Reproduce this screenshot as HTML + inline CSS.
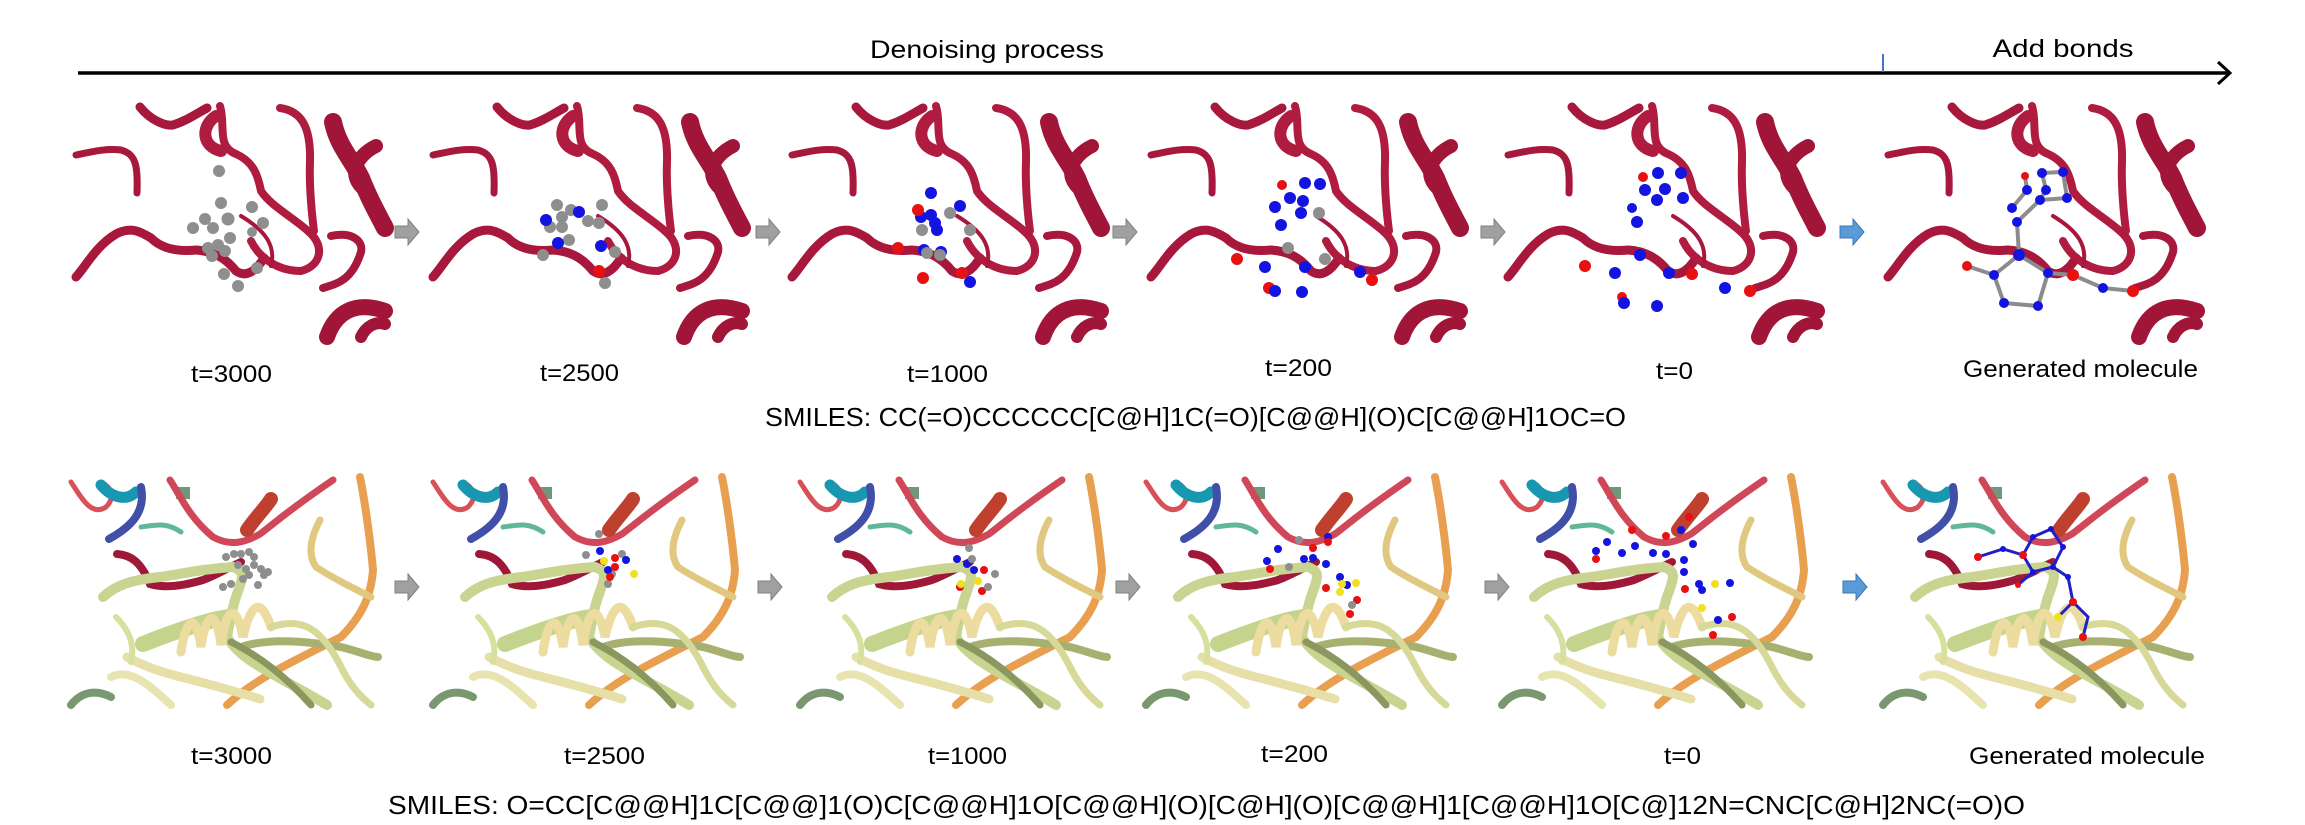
<!DOCTYPE html>
<html><head><meta charset="utf-8"><style>
html,body{margin:0;padding:0;background:#fff;}
svg{display:block;}
text{font-family:"Liberation Sans",sans-serif;fill:#000;}
</style></head><body>
<svg width="2305" height="825" viewBox="0 0 2305 825">
<defs>
<g id="rib1" fill="none" stroke-linecap="round">
 <path d="M0,49 C15,46 30,42 45,44 C60,48 62,60 61,87" stroke="#a8183c" stroke-width="7"/>
 <path d="M0,171 C10,160 20,140 40,128 C55,120 65,126 75,132 C85,142 100,146 120,144 C135,145 148,150 160,165 C170,172 180,165 188,152" stroke="#a8183c" stroke-width="9"/>
 <path d="M144,0 C150,20 140,40 160,48 C178,56 182,70 185,85 C195,100 215,110 232,125 C250,140 245,160 225,165 C205,165 185,155 175,135" stroke="#b01c40" stroke-width="8"/>
 <path d="M140,10 C125,20 125,40 145,45" stroke="#b01c40" stroke-width="12"/>
 <path d="M204,2 C225,5 235,20 234,56 C233,80 236,110 238,125" stroke="#b01c40" stroke-width="8"/>
 <path d="M257,16 C262,40 275,52 285,72 C292,90 300,105 309,122" stroke="#a01538" stroke-width="18"/>
 <path d="M300,40 C280,50 270,70 290,85" stroke="#a01538" stroke-width="14"/>
 <path d="M64,1 C75,15 90,20 97,19 C110,15 120,8 131,2" stroke="#a8183c" stroke-width="9"/>
 <path d="M247,182 C260,178 275,175 284,149 C290,135 275,125 255,130" stroke="#a8183c" stroke-width="8"/>
 <path d="M251,231 C260,205 280,195 309,205" stroke="#a01538" stroke-width="16"/>
 <path d="M285,231 C290,220 300,215 309,218" stroke="#a01538" stroke-width="12"/>
 <path d="M165,110 C190,125 200,140 195,160" stroke="#a8183c" stroke-width="4"/>
</g>
<g id="rib2" fill="none" stroke-linecap="round">
 <path d="M0,5 C10,20 20,40 35,30 C45,20 40,10 30,5" stroke="#d85058" stroke-width="5"/>
 <path d="M30,8 C40,20 55,25 65,15" stroke="#1898b0" stroke-width="11"/>
 <path d="M70,10 C75,35 60,50 38,62" stroke="#4050a8" stroke-width="8"/>
 <path d="M70,50 C85,48 95,45 110,55" stroke="#60b898" stroke-width="5"/>
 <rect x="105" y="10" width="14" height="12" fill="#709878"/>
 <path d="M99,3 C110,20 118,40 142,60 C160,70 175,65 189,57 C205,45 215,35 262,3" stroke="#d04858" stroke-width="7"/>
 <path d="M176,53 C185,40 195,30 200,22" stroke="#c04030" stroke-width="14"/>
 <path d="M46,77 C60,78 70,85 79,107 C95,112 115,108 132,103 C145,98 155,92 170,85" stroke="#a01838" stroke-width="8"/>
 <path d="M289,0 C295,30 300,70 302,93 C300,120 290,140 270,160 C250,170 220,185 206,193 C185,205 170,215 156,228" stroke="#e8a050" stroke-width="8"/>
 <path d="M249,43 C240,60 236,77 245,90 C260,100 280,110 300,120" stroke="#e0c880" stroke-width="7"/>
 <path d="M32,120 C45,108 60,103 89,100 C110,97 130,92 162,90 C175,95 172,100 165,120 C160,135 158,150 156,160 C170,185 210,200 256,228" stroke="#c8d490" stroke-width="10"/>
 <path d="M72,167 C90,160 110,152 135,145 C145,142 152,141 158,140" stroke="#c4d48c" stroke-width="16"/>
 <path d="M110,175 C115,140 125,135 130,170 C135,135 145,130 150,168 C155,130 165,125 172,160 C180,125 190,120 200,150" stroke="#ecdca0" stroke-width="9"/>
 <path d="M56,180 C75,190 90,195 110,200 C130,205 150,210 189,222" stroke="#e6e0a8" stroke-width="9"/>
 <path d="M40,200 C60,190 80,210 100,228" stroke="#e8e4b0" stroke-width="8"/>
 <path d="M170,170 C200,160 240,165 270,170 C290,175 300,180 307,180" stroke="#a8b070" stroke-width="8"/>
 <path d="M160,165 C190,180 215,200 240,228" stroke="#8a9860" stroke-width="7"/>
 <path d="M0,228 C10,215 25,212 40,220" stroke="#7a9870" stroke-width="8"/>
 <path d="M45,140 C55,150 65,165 60,185" stroke="#d8e0a0" stroke-width="6"/>
 <path d="M200,150 C230,140 250,150 270,190 C280,210 290,220 300,228" stroke="#d8d898" stroke-width="7"/>
</g>
<g id="gen1">
 <g stroke="#8c8c8c" stroke-width="4" fill="none">
  <path d="M154,67 L175,66 L179,92 L152,94 L158,84 L154,67"/>
  <path d="M139,84 L124,102 M139,84 L137,70 M152,94 L129,116 L131,149 L106,169 L116,197 L150,200 L160,167 L131,149 M106,169 L79,160 M160,167 L185,169 L215,182 L245,185"/>
 </g>
 <g fill="#1414e0"><circle cx="154" cy="67" r="5"/><circle cx="175" cy="66" r="5"/><circle cx="158" cy="84" r="5"/><circle cx="179" cy="92" r="5"/><circle cx="139" cy="84" r="5"/><circle cx="152" cy="94" r="5"/><circle cx="124" cy="102" r="5"/><circle cx="129" cy="116" r="5"/><circle cx="131" cy="149" r="6"/><circle cx="106" cy="169" r="5"/><circle cx="160" cy="167" r="5"/><circle cx="116" cy="197" r="5"/><circle cx="150" cy="200" r="5"/><circle cx="215" cy="182" r="5"/></g>
 <g fill="#e81010"><circle cx="137" cy="70" r="4"/><circle cx="79" cy="160" r="5"/><circle cx="185" cy="169" r="6"/><circle cx="245" cy="185" r="6"/></g>
</g>
<g id="gen2">
 <g stroke="#2020c8" stroke-width="3" fill="none">
  <path d="M95,80 L120,72 L140,78 L150,60 L168,52 L180,70 L170,90 L150,95 L140,78 M170,90 L185,100 L190,125 L205,140 L200,160 M190,125 L175,140 M150,95 L135,108"/>
 </g>
 <g fill="#1414e0"><circle cx="120" cy="72" r="3"/><circle cx="150" cy="60" r="3"/><circle cx="168" cy="52" r="3"/><circle cx="180" cy="70" r="3"/><circle cx="170" cy="90" r="3"/><circle cx="150" cy="95" r="3"/><circle cx="185" cy="100" r="3"/></g>
 <g fill="#e81010"><circle cx="95" cy="80" r="4"/><circle cx="140" cy="78" r="4"/><circle cx="190" cy="125" r="4"/><circle cx="200" cy="160" r="4"/><circle cx="135" cy="108" r="3"/></g>
 <circle cx="175" cy="140" r="4" fill="#f0e020"/>
</g>
</defs>

<line x1="78" y1="73" x2="2228" y2="73" stroke="#000" stroke-width="3.5"/>
<path d="M2218,62 L2230,73 L2218,84" fill="none" stroke="#000" stroke-width="3"/>
<line x1="1883" y1="54" x2="1883" y2="72" stroke="#4a70c8" stroke-width="2"/>
<text x="987" y="58" font-size="25" text-anchor="middle" textLength="234" lengthAdjust="spacingAndGlyphs">Denoising process</text>
<text x="2063" y="57" font-size="25" text-anchor="middle" textLength="141" lengthAdjust="spacingAndGlyphs">Add bonds</text>

<g>
 <g transform="translate(76,106)"><use href="#rib1"/>
  <g fill="#8e8e8e"><circle cx="143" cy="65" r="6"/><circle cx="145" cy="97" r="6"/><circle cx="176" cy="101" r="6"/><circle cx="152" cy="113" r="6.5"/><circle cx="129" cy="113" r="6"/><circle cx="187" cy="117" r="6"/><circle cx="117" cy="122" r="6"/><circle cx="137" cy="122" r="6"/><circle cx="154" cy="132" r="6"/><circle cx="176" cy="126" r="5"/><circle cx="132" cy="142" r="6"/><circle cx="142" cy="139" r="6"/><circle cx="149" cy="145" r="6"/><circle cx="136" cy="150" r="6"/><circle cx="181" cy="162" r="6"/><circle cx="148" cy="168" r="6"/><circle cx="162" cy="180" r="6"/></g>
 </g>
 <g transform="translate(433,106)"><use href="#rib1"/>
  <g fill="#8e8e8e"><circle cx="124" cy="99" r="6"/><circle cx="138" cy="104" r="6"/><circle cx="169" cy="99" r="6"/><circle cx="129" cy="111" r="6"/><circle cx="155" cy="115" r="6"/><circle cx="166" cy="117" r="6"/><circle cx="117" cy="121" r="6"/><circle cx="129" cy="121" r="6"/><circle cx="136" cy="134" r="6"/><circle cx="110" cy="149" r="6"/><circle cx="182" cy="146" r="6"/><circle cx="172" cy="177" r="6"/></g>
  <g fill="#1414e0"><circle cx="113" cy="114" r="6"/><circle cx="146" cy="106" r="6"/><circle cx="125" cy="137" r="6"/><circle cx="168" cy="140" r="6"/></g>
  <circle cx="166" cy="165" r="6" fill="#e81010"/>
 </g>
 <g transform="translate(792,106)"><use href="#rib1"/>
  <g fill="#1414e0"><circle cx="139" cy="87" r="6"/><circle cx="168" cy="100" r="6"/><circle cx="129" cy="111" r="6"/><circle cx="139" cy="109" r="6"/><circle cx="143" cy="117" r="6"/><circle cx="145" cy="124" r="6"/><circle cx="132" cy="144" r="6"/><circle cx="149" cy="146" r="6"/><circle cx="178" cy="176" r="6"/></g>
  <g fill="#e81010"><circle cx="126" cy="104" r="6"/><circle cx="106" cy="142" r="6"/><circle cx="170" cy="167" r="6"/><circle cx="131" cy="172" r="6"/></g>
  <g fill="#8e8e8e"><circle cx="158" cy="107" r="6"/><circle cx="130" cy="124" r="6"/><circle cx="178" cy="124" r="6"/><circle cx="135" cy="147" r="6"/><circle cx="148" cy="149" r="6"/></g>
 </g>
 <g transform="translate(1151,106)"><use href="#rib1"/>
  <g fill="#e81010"><circle cx="131" cy="79" r="5"/><circle cx="86" cy="153" r="6"/><circle cx="221" cy="174" r="6"/><circle cx="118" cy="182" r="6"/></g>
  <g fill="#1414e0"><circle cx="154" cy="77" r="6"/><circle cx="169" cy="78" r="6"/><circle cx="139" cy="92" r="6"/><circle cx="152" cy="95" r="6"/><circle cx="124" cy="101" r="6"/><circle cx="150" cy="107" r="6"/><circle cx="130" cy="119" r="6"/><circle cx="114" cy="161" r="6"/><circle cx="154" cy="161" r="6"/><circle cx="209" cy="166" r="6"/><circle cx="124" cy="185" r="6"/><circle cx="151" cy="186" r="6"/></g>
  <g fill="#8e8e8e"><circle cx="168" cy="107" r="6"/><circle cx="137" cy="142" r="6"/><circle cx="174" cy="153" r="6"/></g>
 </g>
 <g transform="translate(1508,106)"><use href="#rib1"/>
  <g fill="#e81010"><circle cx="135" cy="71" r="5"/><circle cx="77" cy="160" r="6"/><circle cx="184" cy="168" r="6"/><circle cx="242" cy="185" r="6"/><circle cx="114" cy="191" r="5"/></g>
  <g fill="#1414e0"><circle cx="150" cy="67" r="6"/><circle cx="173" cy="67" r="6"/><circle cx="137" cy="84" r="6"/><circle cx="157" cy="83" r="6"/><circle cx="149" cy="94" r="6"/><circle cx="175" cy="92" r="6"/><circle cx="124" cy="102" r="5"/><circle cx="129" cy="116" r="6"/><circle cx="132" cy="149" r="6"/><circle cx="107" cy="167" r="6"/><circle cx="161" cy="167" r="6"/><circle cx="217" cy="182" r="6"/><circle cx="116" cy="197" r="6"/><circle cx="149" cy="200" r="6"/></g>
 </g>
 <g transform="translate(1888,106)"><use href="#rib1"/><use href="#gen1"/></g>
</g>

<g>
 <g transform="translate(71,477)"><use href="#rib2"/>
  <g fill="#8e8e8e"><circle cx="155" cy="80" r="4"/><circle cx="163" cy="77" r="4"/><circle cx="170" cy="77" r="4"/><circle cx="178" cy="75" r="4"/><circle cx="183" cy="80" r="4"/><circle cx="167" cy="88" r="4"/><circle cx="175" cy="92" r="4"/><circle cx="183" cy="88" r="4"/><circle cx="190" cy="92" r="4"/><circle cx="193" cy="98" r="4"/><circle cx="178" cy="98" r="4"/><circle cx="172" cy="102" r="4"/><circle cx="160" cy="107" r="4"/><circle cx="152" cy="110" r="4"/><circle cx="187" cy="108" r="4"/><circle cx="197" cy="95" r="4"/></g>
 </g>
 <g transform="translate(433,477)"><use href="#rib2"/>
  <g fill="#8e8e8e"><circle cx="166" cy="57" r="4"/><circle cx="153" cy="78" r="4"/><circle cx="189" cy="77" r="4"/><circle cx="179" cy="97" r="4"/><circle cx="175" cy="107" r="4"/></g>
  <g fill="#1414e0"><circle cx="167" cy="74" r="4"/><circle cx="193" cy="83" r="4"/><circle cx="175" cy="93" r="4"/></g>
  <g fill="#f0e020"><circle cx="171" cy="84" r="4"/><circle cx="201" cy="97" r="4"/></g>
  <g fill="#e81010"><circle cx="182" cy="81" r="4"/><circle cx="182" cy="90" r="4"/><circle cx="177" cy="100" r="4"/></g>
 </g>
 <g transform="translate(800,477)"><use href="#rib2"/>
  <g fill="#1414e0"><circle cx="157" cy="82" r="4"/><circle cx="167" cy="87" r="4"/><circle cx="174" cy="93" r="4"/></g>
  <g fill="#e81010"><circle cx="184" cy="93" r="4"/><circle cx="182" cy="114" r="4"/><circle cx="160" cy="110" r="4"/></g>
  <g fill="#f0e020"><circle cx="178" cy="104" r="4"/><circle cx="161" cy="107" r="4"/></g>
  <g fill="#8e8e8e"><circle cx="169" cy="71" r="4"/><circle cx="195" cy="97" r="4"/><circle cx="188" cy="110" r="4"/><circle cx="172" cy="82" r="4"/></g>
 </g>
 <g transform="translate(1146,477)"><use href="#rib2"/>
  <g fill="#1414e0"><circle cx="132" cy="72" r="4"/><circle cx="121" cy="84" r="4"/><circle cx="158" cy="82" r="4"/><circle cx="167" cy="81" r="4"/><circle cx="182" cy="60" r="4"/><circle cx="180" cy="87" r="4"/><circle cx="194" cy="100" r="4"/><circle cx="201" cy="108" r="4"/></g>
  <g fill="#e81010"><circle cx="167" cy="71" r="4"/><circle cx="124" cy="92" r="4"/><circle cx="182" cy="65" r="4"/><circle cx="180" cy="111" r="4"/><circle cx="211" cy="123" r="4"/><circle cx="204" cy="137" r="4"/></g>
  <g fill="#f0e020"><circle cx="196" cy="107" r="4"/><circle cx="210" cy="106" r="4"/><circle cx="194" cy="115" r="4"/></g>
  <g fill="#8e8e8e"><circle cx="153" cy="63" r="4"/><circle cx="206" cy="128" r="4"/><circle cx="143" cy="90" r="4"/></g>
 </g>
 <g transform="translate(1502,477)"><use href="#rib2"/>
  <g fill="#e81010"><circle cx="187" cy="40" r="4"/><circle cx="130" cy="53" r="4"/><circle cx="164" cy="59" r="4"/><circle cx="94" cy="82" r="4"/><circle cx="183" cy="112" r="4"/><circle cx="230" cy="140" r="4"/><circle cx="211" cy="158" r="4"/></g>
  <g fill="#1414e0"><circle cx="179" cy="53" r="4"/><circle cx="105" cy="65" r="4"/><circle cx="133" cy="69" r="4"/><circle cx="120" cy="76" r="4"/><circle cx="151" cy="76" r="4"/><circle cx="164" cy="77" r="4"/><circle cx="191" cy="67" r="4"/><circle cx="182" cy="83" r="4"/><circle cx="182" cy="95" r="4"/><circle cx="197" cy="107" r="4"/><circle cx="228" cy="106" r="4"/><circle cx="200" cy="113" r="4"/><circle cx="216" cy="143" r="4"/><circle cx="94" cy="74" r="4"/></g>
  <g fill="#f0e020"><circle cx="213" cy="107" r="4"/><circle cx="200" cy="131" r="4"/></g>
 </g>
 <g transform="translate(1883,477)"><use href="#rib2"/><use href="#gen2"/></g>
</g>

<g fill="#a0a0a0" stroke="#808080" stroke-width="1">
 <path d="M395,226 h13 v-7 l11,13 l-11,13 v-7 h-13z"/>
 <path d="M756,226 h13 v-7 l11,13 l-11,13 v-7 h-13z"/>
 <path d="M1113,226 h13 v-7 l11,13 l-11,13 v-7 h-13z"/>
 <path d="M1481,226 h13 v-7 l11,13 l-11,13 v-7 h-13z"/>
 <path d="M1840,226 h13 v-7 l11,13 l-11,13 v-7 h-13z" fill="#5a9ad8" stroke="#3a78b8"/>
 <path d="M395,581 h13 v-7 l11,13 l-11,13 v-7 h-13z"/>
 <path d="M758,581 h13 v-7 l11,13 l-11,13 v-7 h-13z"/>
 <path d="M1116,581 h13 v-7 l11,13 l-11,13 v-7 h-13z"/>
 <path d="M1485,581 h13 v-7 l11,13 l-11,13 v-7 h-13z"/>
 <path d="M1843,581 h13 v-7 l11,13 l-11,13 v-7 h-13z" fill="#5a9ad8" stroke="#3a78b8"/>
</g>

<g font-size="24">
 <text x="191" y="382" textLength="81" lengthAdjust="spacingAndGlyphs">t=3000</text>
 <text x="540" y="381" textLength="79" lengthAdjust="spacingAndGlyphs">t=2500</text>
 <text x="907" y="382" textLength="81" lengthAdjust="spacingAndGlyphs">t=1000</text>
 <text x="1265" y="376" textLength="67" lengthAdjust="spacingAndGlyphs">t=200</text>
 <text x="1656" y="379" textLength="37" lengthAdjust="spacingAndGlyphs">t=0</text>
 <text x="1963" y="377" textLength="235" lengthAdjust="spacingAndGlyphs">Generated molecule</text>
</g>
<text x="765" y="426" font-size="26" textLength="861" lengthAdjust="spacingAndGlyphs">SMILES: CC(=O)CCCCCC[C@H]1C(=O)[C@@H](O)C[C@@H]1OC=O</text>
<g font-size="24">
 <text x="191" y="764" textLength="81" lengthAdjust="spacingAndGlyphs">t=3000</text>
 <text x="564" y="764" textLength="81" lengthAdjust="spacingAndGlyphs">t=2500</text>
 <text x="928" y="764" textLength="79" lengthAdjust="spacingAndGlyphs">t=1000</text>
 <text x="1261" y="762" textLength="67" lengthAdjust="spacingAndGlyphs">t=200</text>
 <text x="1664" y="764" textLength="37" lengthAdjust="spacingAndGlyphs">t=0</text>
 <text x="1969" y="764" textLength="236" lengthAdjust="spacingAndGlyphs">Generated molecule</text>
</g>
<text x="388" y="814" font-size="26" textLength="1637" lengthAdjust="spacingAndGlyphs">SMILES: O=CC[C@@H]1C[C@@]1(O)C[C@@H]1O[C@@H](O)[C@H](O)[C@@H]1[C@@H]1O[C@]12N=CNC[C@H]2NC(=O)O</text>
</svg>
</body></html>
